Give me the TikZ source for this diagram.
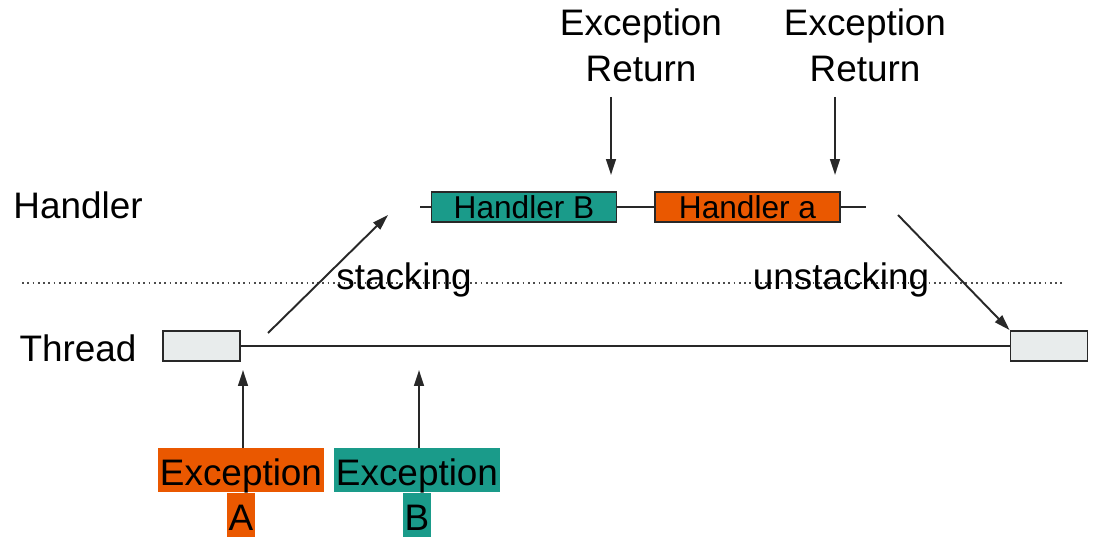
\documentclass[tikz,border=0pt]{standalone}
\usepackage{fontspec}
\setmainfont{Liberation Sans}
\usetikzlibrary{arrows.meta}

\definecolor{tealB}{RGB}{26,155,138}
\definecolor{orangeA}{RGB}{234,88,0}
\definecolor{threadgray}{RGB}{232,236,236}
\definecolor{edgegray}{RGB}{40,40,40}

\tikzset{
  txt/.style={font=\fontsize{21}{26}\selectfont, inner sep=0pt, align=center},
  slot/.style={draw=edgegray, line width=1.1pt, inner sep=0pt,
    minimum width=1.54cm, minimum height=0.6cm},
  handlerbox/.style={draw=edgegray, line width=1.1pt, inner sep=0pt,
    minimum width=3.7cm, minimum height=0.6cm, font=\fontsize{18}{22}\selectfont},
  tag/.style={font=\fontsize{21}{26}\selectfont, inner xsep=1pt, inner ysep=0pt,
    text height=0.74cm, text depth=0.14cm},
  arr/.style={line width=1.1pt, edgegray, -{Triangle[length=9pt,width=5.5pt]}},
  wire/.style={line width=1.1pt, edgegray}
}

\begin{document}
\begin{tikzpicture}[x=0.02cm,y=-0.02cm]
  \useasboundingbox (0,0) rectangle (1095,537);

  % levels
  \node[txt] (handler) at (78,205) {Handler};
  \node[txt] (thread) at (78,348) {Thread};
  \draw[line width=1pt, dotted, black!70] (22,283) -- (1065,283);

  % thread line
  \node[slot, fill=threadgray] (t1) at (201.5,346) {};
  \node[slot, fill=threadgray] (t2) at (1049,346) {};
  \draw[wire] (t1.east) -- (t2.west);

  % handlers
  \node[handlerbox, fill=tealB] (hB) at (524,207) {Handler B};
  \node[handlerbox, fill=orangeA] (ha) at (747.5,207) {Handler a};
  \coordinate (hin) at (420,207);
  \coordinate (hout) at (866,207);
  \draw[wire] (hin) -- (hB.west);
  \draw[wire] (hB.east) -- (ha.west);
  \draw[wire] (ha.east) -- (hout);

  % stacking / unstacking
  \coordinate (s0) at (268,333);
  \coordinate (s1) at (388,215);
  \draw[arr] (s0) -- (s1);
  \node[txt] (stk) at (404,280) {stacking};
  \coordinate (u0) at (898,215);
  \draw[arr] (u0) -- (t2.north west);
  \node[txt] (ustk) at (841,280) {unstacking};

  % exception returns
  \node[txt] (ret1) at (641,45) {Exception\\Return};
  \node[txt] (ret2) at (865,45) {Exception\\Return};
  \coordinate (r1) at (611,97);
  \coordinate (r2) at (835,97);
  \draw[arr] (r1) -- ++(0,78);
  \draw[arr] (r2) -- ++(0,78);

  % exceptions
  \node[tag, fill=orangeA, anchor=north] (exA) at (241,448) {Exception};
  \node[tag, fill=orangeA, anchor=north] (exAl) at (exA.south) {A};
  \node[tag, fill=tealB, anchor=north] (exB) at (417,448) {Exception};
  \node[tag, fill=tealB, anchor=north] (exBl) at (exB.south) {B};
  \coordinate (a1) at (243,370);
  \coordinate (b1) at (419,370);
  \draw[arr] (exA.north -| a1) -- (a1);
  \draw[arr] (exB.north -| b1) -- (b1);
\end{tikzpicture}
\end{document}
